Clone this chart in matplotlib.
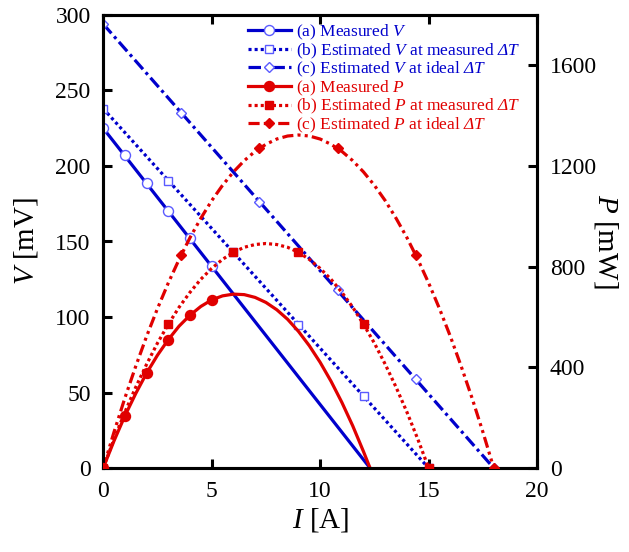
import numpy as np
import matplotlib
matplotlib.use("Agg")
import matplotlib.pyplot as plt
from matplotlib.lines import Line2D

plt.rcParams['font.family'] = ['Liberation Serif', 'DejaVu Serif']
plt.rcParams['mathtext.fontset'] = 'custom'
plt.rcParams['mathtext.rm'] = 'Liberation Serif'
plt.rcParams['mathtext.it'] = 'Liberation Serif:italic'
plt.rcParams['mathtext.sf'] = 'Liberation Serif:italic'  # italic Delta
plt.rcParams['lines.scale_dashes'] = False

# (a) measured
I_a_line = [0, 12.3]
V_a_line = [225, 0]
I_a_mk = [0, 1, 2, 3, 4, 5]
V_a_mk = [225, 207, 189, 170, 152, 134]
I_a_P = [0, 0.5, 1, 1.5, 2, 2.5, 3, 3.5, 4, 4.5, 5, 5.5, 6, 6.5, 7, 7.5, 8,
         8.5, 9, 9.5, 10, 10.5, 11, 11.5, 12, 12.3]
P_a = [0, 108, 207, 296, 377, 448, 510, 564, 607, 642, 668, 684, 691, 689, 678,
       658, 629, 591, 543, 486, 420, 345, 261, 168, 65, 0]
P_a_mk = [0, 207, 377, 510, 607, 668]

# (b) estimated at measured dT
I_b_line = [0, 15]
V_b_line = [238, 0]
I_b_mk = [0, 3, 6, 9, 12, 15]
V_b_mk = [238, 190, 143, 95, 48, 0]
I_b_P = [0, 0.5, 1, 1.5, 2, 2.5, 3, 3.5, 4, 4.5, 5, 5.5, 6, 6.5, 7, 7.5, 8,
         8.5, 9, 9.5, 10, 10.5, 11, 11.5, 12, 12.5, 13, 13.5, 14, 14.5, 15]
P_b = [0, 115, 222, 321, 412, 496, 571, 639, 698, 750, 793, 829, 857, 877, 888,
       892, 888, 877, 857, 829, 793, 750, 698, 639, 571, 496, 412, 321, 222, 115, 0]
P_b_mk = [0, 571, 857, 857, 571, 0]

# (c) estimated at ideal dT
I_c_line = [0, 18]
V_c_line = [294, 0]
I_c_mk = [0, 3.6, 7.2, 10.8, 14.4, 18]
V_c_mk = [294, 235, 176, 118, 59, 0]
I_c_P = [0, 0.5, 1, 1.5, 2, 2.5, 3, 3.5, 4, 4.5, 5, 5.5, 6, 6.5, 7, 7.5, 8, 8.5,
         9, 9.5, 10, 10.5, 11, 11.5, 12, 12.5, 13, 13.5, 14, 14.5, 15, 15.5, 16,
         16.5, 17, 17.5, 18]
P_c = [0, 143, 278, 404, 523, 633, 735, 829, 915, 992, 1062, 1123, 1176, 1221,
       1258, 1286, 1307, 1319, 1323, 1319, 1307, 1286, 1258, 1221, 1176, 1123,
       1062, 992, 915, 829, 735, 633, 523, 404, 278, 143, 0]
P_c_mk = [0, 847, 1270, 1270, 847, 0]

blue = '#0000cc'
blue_edge = '#5a5aff'
red = '#e00000'
lw = 2.3
dot = (0, (2.2, 2.2))
dashdot = (0, (9, 3, 2.2, 3))
dashdotdot = (0, (8, 3, 2.2, 3, 2.2, 3))

fig = plt.figure(figsize=(6.29, 5.52), dpi=100)
ax = fig.add_axes([0.164, 0.152, 0.690, 0.821])
ax2 = ax.twinx()

ax.plot(I_a_line, V_a_line, color=blue, lw=lw, ls='-', zorder=2)
ax.plot(I_b_line, V_b_line, color=blue, lw=lw, ls=dot, zorder=2)
ax.plot(I_c_line, V_c_line, color=blue, lw=lw, ls=dashdot, zorder=2)
ax.plot(I_a_mk, V_a_mk, 'o', ms=7.2, mfc='white', mec=blue_edge, mew=1.0, zorder=3)
ax.plot(I_b_mk, V_b_mk, 's', ms=5.6, mfc='white', mec=blue_edge, mew=1.0, zorder=3)
ax.plot(I_c_mk, V_c_mk, 'D', ms=5.2, mfc='white', mec=blue_edge, mew=1.0, zorder=3)

ax2.plot(I_a_P, P_a, color=red, lw=lw, ls='-', solid_joinstyle='round', zorder=2)
ax2.plot(I_b_P, P_b, color=red, lw=lw, ls=dot, zorder=2)
ax2.plot(I_c_P, P_c, color=red, lw=lw, ls=dashdotdot, zorder=2)
ax2.plot(I_a_mk, P_a_mk, 'o', ms=7.2, color=red, zorder=4)
ax2.plot(I_b_mk, P_b_mk, 's', ms=6.0, color=red, zorder=4)
ax2.plot(I_c_mk, P_c_mk, 'D', ms=5.6, color=red, zorder=4)

ax.set_xlim(0, 20)
ax.set_ylim(0, 300)
ax2.set_ylim(0, 1800)
ax.set_xticks([0, 5, 10, 15, 20])
ax.set_yticks(np.arange(0, 301, 50))
ax2.set_yticks([0, 400, 800, 1200, 1600])

ax.tick_params(direction='in', length=6.5, width=2.2, labelsize=17, pad=9,
               top=True, right=False)
ax2.tick_params(direction='in', length=6.5, width=2.2, labelsize=17, pad=9)
for a in (ax, ax2):
    for s in a.spines.values():
        s.set_linewidth(2.2)

ax.set_xlabel(r'$I$ [A]', fontsize=21, labelpad=3)
ax.set_ylabel(r'$V$ [mV]', fontsize=21, labelpad=11)
ax2.set_ylabel(r'$P$ [mW]', fontsize=21, rotation=-90, labelpad=17)

handles = [
    Line2D([], [], color=blue, lw=lw, ls='-', marker='o', ms=7.2, mfc='white', mec=blue_edge, mew=1.0),
    Line2D([], [], color=blue, lw=lw, ls=dot, marker='s', ms=5.6, mfc='white', mec=blue_edge, mew=1.0),
    Line2D([], [], color=blue, lw=lw, ls=dashdot, marker='D', ms=5.2, mfc='white', mec=blue_edge, mew=1.0),
    Line2D([], [], color=red, lw=lw, ls='-', marker='o', ms=7.2),
    Line2D([], [], color=red, lw=lw, ls=dot, marker='s', ms=6.0),
    Line2D([], [], color=red, lw=lw, ls=dashdotdot, marker='D', ms=5.6),
]
labels = [
    r'(a) Measured $V$',
    r'(b) Estimated $V$ at measured $\mathsf{\Delta T}$',
    r'(c) Estimated $V$ at ideal $\mathsf{\Delta T}$',
    r'(a) Measured $P$',
    r'(b) Estimated $P$ at measured $\mathsf{\Delta T}$',
    r'(c) Estimated $P$ at ideal $\mathsf{\Delta T}$',
]
leg = ax2.legend(handles, labels, loc='upper left', bbox_to_anchor=(0.325, 0.99),
                 frameon=False, fontsize=12.5, handlelength=2.5, handletextpad=0.3,
                 labelspacing=-0.04, borderpad=0.2, borderaxespad=0.0)
for t, c in zip(leg.get_texts(), [blue] * 3 + [red] * 3):
    t.set_color(c)

fig.savefig('out.png', dpi=100)
